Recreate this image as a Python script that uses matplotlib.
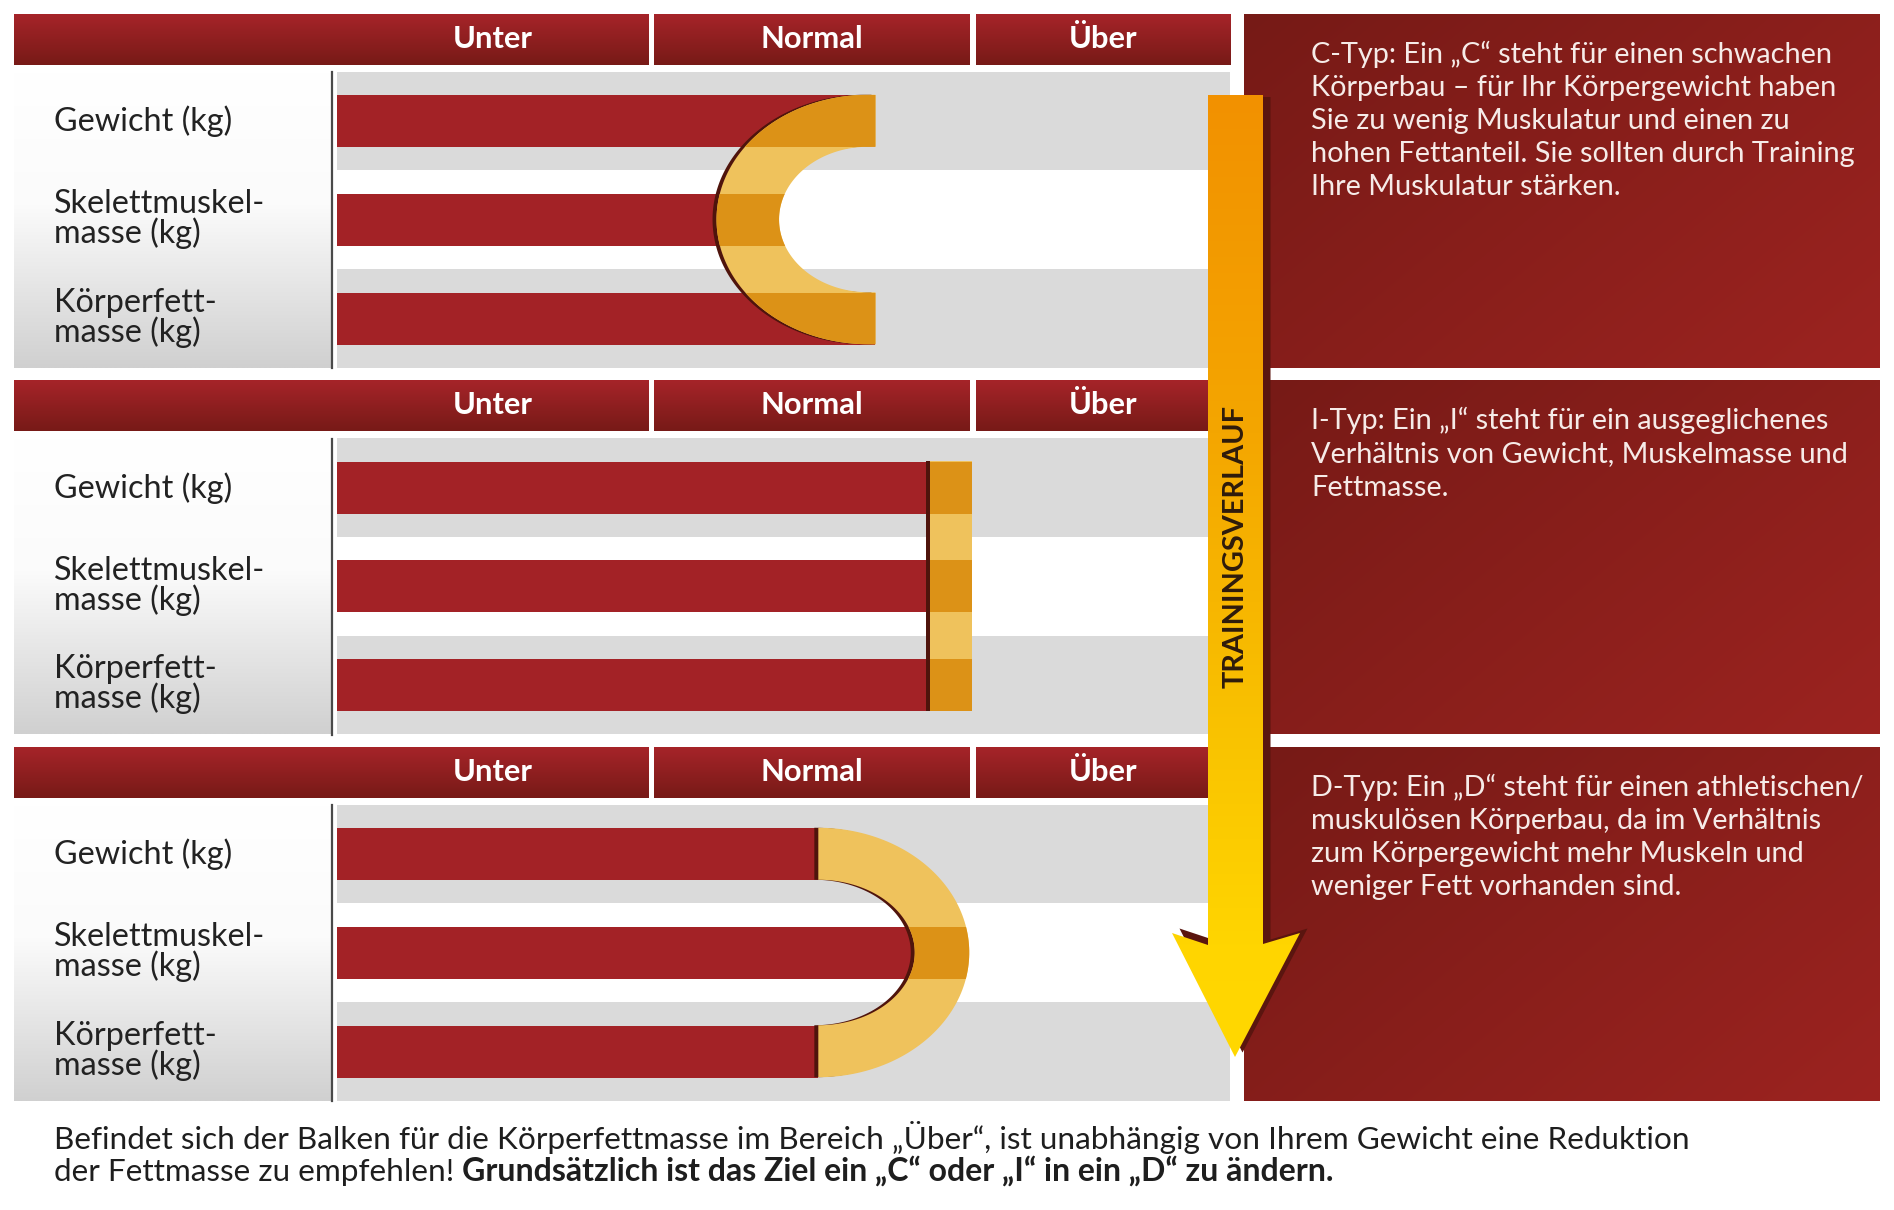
import numpy as np
import matplotlib
matplotlib.use("Agg")
import matplotlib.pyplot as plt
from matplotlib.patches import Rectangle, Polygon
from matplotlib.colors import to_rgb

# ---------------- data ----------------
types = ["C", "I", "D"]
row_labels = ["Gewicht (kg)", "Skelettmuskel-\nmasse (kg)", "Körperfett-\nmasse (kg)"]
zones = ["Unter", "Normal", "Über"]
zone_edges = [0.0, 35.2, 71.2, 100.0]          # chart scale 0..100
bars_C = [60.3, 44.0, 60.3]
bars_I = [66.2, 66.2, 66.2]
bars_D = [53.9, 64.7, 53.9]
overlay_C = [42.5, 49.5, 60.3]                 # outer-left, inner-left, arm end
overlay_I = [66.2, 70.9]                       # left, right
overlay_D = [53.9, 64.7, 70.8]                 # left, inner-right, outer-right
descriptions = [
    ["C-Typ: Ein „C“ steht für einen schwachen",
     "Körperbau – für Ihr Körpergewicht haben",
     "Sie zu wenig Muskulatur und einen zu",
     "hohen Fettanteil. Sie sollten durch Training",
     "Ihre Muskulatur stärken."],
    ["I-Typ: Ein „I“ steht für ein ausgeglichenes",
     "Verhältnis von Gewicht, Muskelmasse und",
     "Fettmasse."],
    ["D-Typ: Ein „D“ steht für einen athletischen/",
     "muskulösen Körperbau, da im Verhältnis",
     "zum Körpergewicht mehr Muskeln und",
     "weniger Fett vorhanden sind."],
]
arrow_label = "TRAININGSVERLAUF"
footer_1 = "Befindet sich der Balken für die Körperfettmasse im Bereich „Über“, ist unabhängig von Ihrem Gewicht eine Reduktion"
footer_2a = "der Fettmasse zu empfehlen! "
footer_2b = "Grundsätzlich ist das Ziel ein „C“ oder „I“ in ein „D“ zu ändern."

# ---------------- style ----------------
FONT = ["Lato", "DejaVu Sans"]
plt.rcParams["font.family"] = FONT
RED = "#a32226"
GRAY = "#dadada"
DARK_OR = "#dc9217"
LIGHT_OR = "#efc25c"
SHADOW = "#4f140c"

W, H = 1894, 1210
fig = plt.figure(figsize=(W / 100, H / 100), dpi=100)
ax = fig.add_axes([0, 0, 1, 1])
ax.set_xlim(0, W)
ax.set_ylim(H, 0)
ax.axis("off")
renderer = fig.canvas.get_renderer()

X0, X1 = 337.0, 1230.0
LX0, LX1 = 14.0, 332.0
panel_tops = [14.0, 380.5, 747.0]
row_rel = [107.0, 205.5, 304.5]
BAR_H = 52.0
BAND_H = 98.5


def px(v):
    return X0 + v * (X1 - X0) / 100.0


def fit(text, target, weight="normal", ref=20.0):
    t = ax.text(0, 0, text, fontsize=ref, fontweight=weight)
    w = t.get_window_extent(renderer).width
    t.remove()
    return ref * target / w


def vgrad(x0, x1, y0, y1, stops, z, clip=None):
    n = 256
    t = np.linspace(0, 1, n)
    pos = [s[0] for s in stops]
    cols = np.array([to_rgb(s[1]) for s in stops])
    arr = np.stack([np.interp(t, pos, cols[:, k]) for k in range(3)], axis=-1)[:, None, :]
    im = ax.imshow(arr, extent=[x0, x1, y1, y0], origin="upper", aspect="auto",
                   interpolation="bilinear", zorder=z)
    if clip is not None:
        im.set_clip_path(clip)
    return im


def dgrad(x0, x1, y0, y1, c0, c1, z):
    n = 200
    u = np.linspace(0, 1, n)
    t = (u[None, :] * 0.6 + u[:, None] * 0.4)
    a, b = np.array(to_rgb(c0)), np.array(to_rgb(c1))
    arr = a[None, None, :] * (1 - t[..., None]) + b[None, None, :] * t[..., None]
    ax.imshow(arr, extent=[x0, x1, y1, y0], origin="upper", aspect="auto",
              interpolation="bilinear", zorder=z)


def cshape(cx, cy, rxo, ryo, rxi, ryi, xe, side):
    t = np.linspace(-np.pi / 2, np.pi / 2, 120)
    outer = np.c_[cx + side * rxo * np.cos(t), cy + ryo * np.sin(t)]
    inner = np.c_[cx + side * rxi * np.cos(t[::-1]), cy + ryi * np.sin(t[::-1])]
    pts = [(xe, cy - ryo)] + outer.tolist() + [(xe, cy + ryo), (xe, cy + ryi)] + \
        inner.tolist() + [(xe, cy - ryi)]
    return np.array(pts)


def draw_overlay(pts, ys, dark_rows, z=5):
    sh = Polygon(pts + np.array([-4.0, 0.0]), closed=True, fc=SHADOW, ec="none", zorder=z - 0.5)
    ax.add_patch(sh)
    body = Polygon(pts, closed=True, fc=LIGHT_OR, ec="none", zorder=z)
    ax.add_patch(body)
    xmin, xmax = pts[:, 0].min() - 5, pts[:, 0].max() + 5
    for r in dark_rows:
        rc = Rectangle((xmin, ys[r] - BAR_H / 2), xmax - xmin, BAR_H, fc=DARK_OR,
                       ec="none", zorder=z + 0.1)
        ax.add_patch(rc)
        rc.set_clip_path(body)


# font sizes fitted to reference widths
fs_head = fit("Normal", 102, "bold")
fs_label = fit("Gewicht (kg)", 178)
fs_box = fit(descriptions[0][1], 527)
fs_foot = fit(footer_1, 1638)
fs_foot_b = fit(footer_2b, 872, "bold")
fs_arrow = fit(arrow_label, 282, "bold")

bars_all = [bars_C, bars_I, bars_D]
for p, top in enumerate(panel_tops):
    ys = [top + r for r in row_rel]
    # label area gradient
    vgrad(LX0, LX1, top + 58, top + 354,
          [(0, "#ffffff"), (0.45, "#fbfbfb"), (1, "#d0d0d0")], z=1)
    ax.plot([LX1, LX1], [top + 58, top + 354], color="#4a4a4a", lw=1.6, zorder=2)
    # bands
    band_cols = [GRAY, "#ffffff", GRAY]
    ax.barh(ys, [X1 - X0] * 3, left=X0, height=BAND_H, color=band_cols, zorder=1)
    # bars
    ax.barh(ys, [px(v) - X0 for v in bars_all[p]], left=X0, height=BAR_H, color=RED, zorder=3)
    # headers
    hx = [(LX0, px(zone_edges[1]) - 3), (px(zone_edges[1]) + 3, px(zone_edges[2]) - 3),
          (px(zone_edges[2]) + 3, X1)]
    for k, (a, b) in enumerate(hx):
        vgrad(a, b, top, top + 51, [(0, "#a62429"), (1, "#771a17")], z=2)
        cxh = (X0 + b) / 2 if k == 0 else (a + b) / 2
        ax.text(cxh, top + 34, zones[k], color="white", fontsize=fs_head,
                fontweight="bold", ha="center", va="baseline", zorder=6)
    # row labels
    for r, lab in enumerate(row_labels):
        lines = lab.split("\n")
        if len(lines) == 1:
            ax.text(54, ys[r] + 10, lines[0], fontsize=fs_label, color="#222222",
                    va="baseline", zorder=6)
        else:
            ax.text(54, ys[r] - 6.5, lines[0], fontsize=fs_label, color="#222222",
                    va="baseline", zorder=6)
            ax.text(54, ys[r] + 23.5, lines[1], fontsize=fs_label, color="#222222",
                    va="baseline", zorder=6)
    # description boxes
    dgrad(1244, 1880, top, top + 354, "#761a16", "#9c2320", z=2)
    for i, line in enumerate(descriptions[p]):
        ax.text(1311, top + 49 + 33 * i, line, fontsize=fs_box, color="#f6ebe8",
                va="baseline", zorder=6)

    cy = ys[1]
    ryo = (ys[2] + BAR_H / 2 - (ys[0] - BAR_H / 2)) / 2
    ryi = (ys[2] - BAR_H / 2 - (ys[0] + BAR_H / 2)) / 2
    if types[p] == "C":
        xl, xil, xe = px(overlay_C[0]), px(overlay_C[1]), px(overlay_C[2])
        cx = xe - 7
        pts = cshape(cx, cy, cx - xl, ryo, cx - xil, ryi, xe, -1)
        draw_overlay(pts, ys, [0, 1, 2])
    elif types[p] == "I":
        a, b = px(overlay_I[0]), px(overlay_I[1])
        pts = np.array([(a, cy - ryo), (b, cy - ryo), (b, cy + ryo), (a, cy + ryo)])
        draw_overlay(pts + np.array([1.5, 0]), ys, [0, 1, 2])
    else:
        xs, xir, xor = px(overlay_D[0]), px(overlay_D[1]), px(overlay_D[2])
        pts = cshape(xs, cy, xor - xs, ryo, xir - xs, ryi, xs, 1)
        draw_overlay(pts, ys, [1])

# ---------------- arrow ----------------
arrow = np.array([(1208, 95), (1263, 95), (1263, 944), (1300, 933), (1235, 1057),
                  (1172, 933), (1208, 945)], dtype=float)
shadow = arrow + np.array([7.5, -4.5])
shadow[0, 1] = shadow[1, 1] = 97
ax.add_patch(Polygon(shadow, closed=True, fc="#5a150f", ec="none", zorder=7))
ap = Polygon(arrow, closed=True, fc="none", ec="none", zorder=7.5)
ax.add_patch(ap)
vgrad(1165, 1305, 95, 1060, [(0, "#f29100"), (0.35, "#f4a600"), (0.7, "#fac600"),
                              (0.88, "#ffd500"), (1, "#ffd800")], z=8, clip=ap)
ax.text(1236, 546, arrow_label, rotation=90, fontsize=fs_arrow, fontweight="bold",
        color="#2e1b0c", ha="center", va="center", zorder=9)

# ---------------- footer ----------------
ax.text(54, 1149, footer_1, fontsize=fs_foot, color="#1e1e1e", va="baseline", zorder=6)
t2 = ax.text(54, 1181, footer_2a, fontsize=fs_foot, color="#1e1e1e", va="baseline", zorder=6)
w2 = t2.get_window_extent(renderer).width
ax.text(54 + w2, 1181, footer_2b, fontsize=fs_foot_b, fontweight="bold", color="#1e1e1e",
        va="baseline", zorder=6)

ax.set_xlim(0, W)
ax.set_ylim(H, 0)
fig.savefig("out.png", dpi=100, facecolor="white")
